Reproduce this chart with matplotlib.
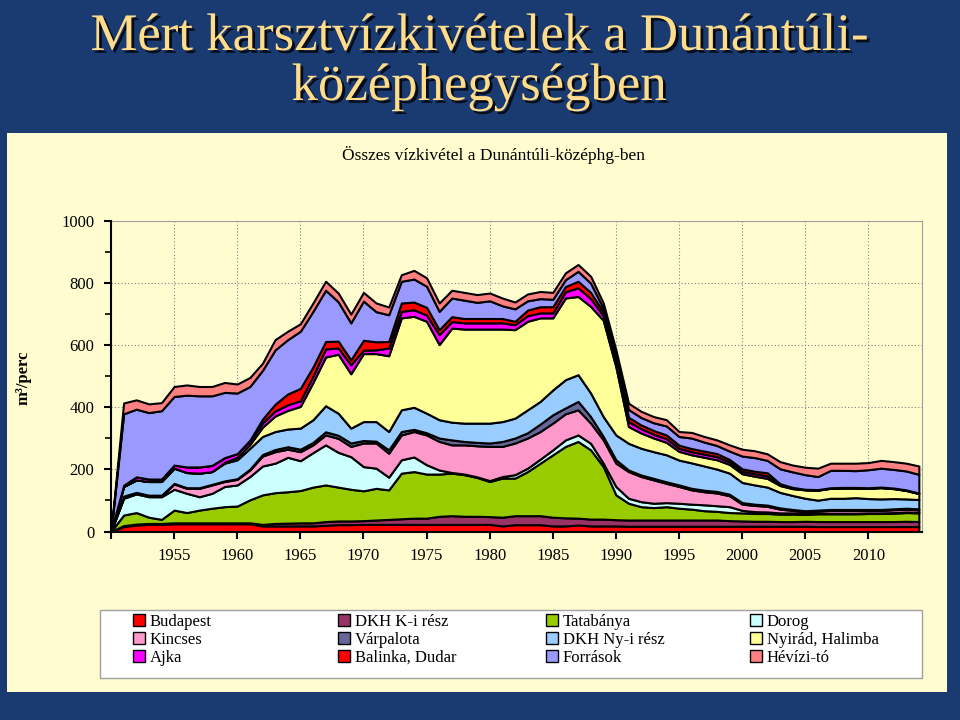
import matplotlib.pyplot as plt
import matplotlib.patheffects as pe
from matplotlib.patches import Rectangle, Patch
from matplotlib.ticker import MultipleLocator

plt.rcParams['font.family'] = ['Liberation Serif', 'DejaVu Serif']

years = list(range(1950, 2015))

budapest = [0, 16, 21, 23, 23, 25, 25, 25, 25, 25, 25, 25, 18, 18, 18, 18, 18, 20, 22, 22,
            23, 23, 23, 23, 23, 23, 23, 23, 23, 23, 23, 18, 22, 22, 22, 18, 18, 21, 18, 18,
            18, 17, 17, 17, 17, 17, 17, 17, 17, 17, 17, 17, 17, 17, 17, 17, 16, 16, 16, 16,
            16, 16, 16, 16, 16]
dkh_k = [0, 3, 3, 3, 3, 3, 3, 3, 3, 3, 3, 3, 5, 8, 9, 10, 10, 12, 12, 12,
         12, 14, 16, 18, 20, 20, 26, 28, 26, 26, 25, 28, 29, 29, 29, 28, 26, 22, 22, 22,
         20, 20, 20, 20, 20, 20, 20, 20, 20, 18, 17, 16, 16, 15, 15, 16, 16, 16, 16, 16,
         16, 16, 16, 17, 16]
tatabanya = [0, 34, 37, 20, 13, 41, 33, 41, 47, 52, 54, 74, 95, 99, 101, 104, 115, 118, 109, 102,
             96, 102, 95, 147, 150, 142, 136, 137, 134, 125, 113, 126, 121, 142, 169, 201, 230, 247, 223, 169,
             80, 54, 43, 40, 43, 38, 35, 30, 28, 26, 26, 25, 25, 24, 24, 22, 25, 25, 25, 25,
             26, 26, 27, 28, 28]
dorog = [0, 54, 60, 66, 73, 67, 62, 43, 48, 65, 68, 75, 93, 95, 111, 96, 111, 129, 112, 105,
         78, 65, 41, 43, 47, 30, 13, 2, 2, 2, 3, 5, 11, 11, 13, 16, 21, 21, 21, 11,
         27, 16, 16, 14, 13, 16, 16, 19, 18, 19, 8, 6, 5, 4, 4, 3, 2, 2, 2, 2,
         2, 2, 2, 2, 2]
kincses = [0, 5, 3, 3, 3, 17, 16, 27, 27, 16, 18, 21, 32, 37, 26, 29, 25, 32, 45, 33,
           76, 81, 77, 80, 82, 96, 92, 89, 94, 100, 110, 97, 102, 97, 89, 86, 84, 81, 65, 75,
           75, 86, 81, 75, 62, 54, 46, 42, 41, 35, 20, 20, 18, 12, 8, 6, 7, 9, 9, 9,
           8, 8, 9, 9, 8]
varpalota = [0, 2, 2, 2, 2, 2, 2, 2, 2, 2, 2, 3, 5, 7, 8, 8, 8, 10, 10, 11,
             8, 6, 11, 11, 7, 7, 11, 16, 11, 11, 11, 16, 16, 17, 24, 27, 19, 27, 21, 11,
             11, 5, 5, 5, 5, 5, 5, 5, 5, 5, 5, 4, 4, 4, 3, 3, 3, 3, 3, 3,
             3, 3, 3, 3, 3]
dkh_ny = [0, 31, 40, 44, 44, 49, 49, 47, 41, 57, 61, 67, 58, 58, 57, 68, 73, 84, 71, 48,
          61, 63, 59, 70, 71, 63, 59, 57, 59, 62, 64, 64, 64, 74, 73, 80, 91, 86, 76, 64,
          80, 86, 86, 86, 87, 80, 82, 78, 72, 68, 65, 62, 58, 50, 45, 40, 32, 36, 36, 38,
          35, 34, 33, 30, 30]
nyirad = [0, 0, 0, 0, 0, 0, 0, 0, 0, 3, 8, 12, 30, 50, 60, 70, 120, 157, 190, 175,
          219, 219, 244, 296, 293, 296, 242, 303, 303, 303, 303, 298, 285, 285, 269, 232, 263, 252, 279, 310,
          219, 54, 49, 44, 40, 28, 26, 28, 30, 28, 28, 28, 28, 22, 22, 27, 32, 32, 33, 31,
          33, 36, 32, 27, 19]
ajka = [0, 4, 10, 8, 8, 10, 18, 20, 20, 15, 12, 12, 14, 16, 18, 18, 20, 26, 20, 29,
        11, 12, 25, 21, 21, 20, 32, 21, 20, 20, 20, 20, 16, 18, 16, 16, 20, 28, 25, 15,
        15, 16, 14, 12, 12, 10, 10, 10, 10, 8, 8, 8, 8, 3, 2, 1, 1, 1, 1, 1,
        1, 1, 1, 1, 1]
balinka = [0, 0, 0, 0, 0, 0, 0, 0, 0, 0, 0, 2, 12, 22, 35, 40, 30, 24, 22, 16,
           32, 26, 21, 27, 25, 25, 16, 16, 14, 14, 14, 14, 11, 18, 20, 20, 17, 21, 20, 12,
           12, 14, 12, 12, 12, 10, 10, 10, 10, 8, 8, 8, 10, 3, 2, 1, 1, 1, 1, 1,
           1, 1, 1, 1, 1]
forrasok = [0, 230, 218, 214, 220, 221, 231, 229, 224, 210, 195, 173, 157, 175, 175, 184, 179, 165, 127, 119,
            126, 97, 86, 70, 74, 68, 59, 60, 59, 52, 57, 41, 40, 30, 26, 24, 22, 32, 30, 12,
            12, 25, 24, 25, 29, 28, 34, 29, 26, 27, 41, 44, 40, 48, 50, 47, 42, 56, 55, 54,
            58, 61, 60, 61, 60]
hevizi = [0, 35, 30, 28, 26, 32, 33, 30, 30, 32, 29, 29, 23, 33, 27, 24, 27, 29, 28, 28,
          28, 28, 25, 21, 28, 27, 27, 25, 25, 25, 25, 25, 22, 22, 23, 22, 22, 22, 22, 17,
          16, 20, 20, 20, 20, 16, 18, 18, 18, 20, 22, 22, 21, 23, 22, 24, 27, 23, 23, 24,
          23, 25, 25, 25, 27]

names = ['Budapest', 'DKH K-i rész', 'Tatabánya', 'Dorog',
         'Kincses', 'Várpalota', 'DKH Ny-i rész', 'Nyirád, Halimba',
         'Ajka', 'Balinka, Dudar', 'Források', 'Hévízi-tó']
series = [budapest, dkh_k, tatabanya, dorog, kincses, varpalota,
          dkh_ny, nyirad, ajka, balinka, forrasok, hevizi]
colors = ['#ff0000', '#993366', '#99cc00', '#ccffff', '#ff99cc', '#666699',
          '#99ccff', '#ffff99', '#ff00ff', '#ff0000', '#9999ff', '#ff8080']

W, H = 960, 720
fig = plt.figure(figsize=(9.6, 7.2), dpi=100)
fig.patch.set_facecolor('#193b72')

# pale panel behind the chart
fig.patches.append(Rectangle((7 / W, 1 - 692 / H), 940 / W, 559 / H,
                             transform=fig.transFigure, facecolor='#fffdd0',
                             edgecolor='none', zorder=-10))
# legend box
fig.patches.append(Rectangle((100 / W, 1 - 678 / H), 822 / W, 68 / H,
                             transform=fig.transFigure, facecolor='white',
                             edgecolor='#a0a0a0', linewidth=1, zorder=-5))

title_fx = [pe.withSimplePatchShadow(offset=(2, -2), shadow_rgbFace='black', alpha=0.8)]
fig.text(479 / W, 1 - 50 / H, 'Mért karsztvízkivételek a Dunántúli-', ha='center',
         va='baseline', fontsize=38, color='#ffdc8a', path_effects=title_fx)
fig.text(479 / W, 1 - 100 / H, 'középhegységben', ha='center', va='baseline',
         fontsize=38, color='#ffdc8a', path_effects=title_fx)

fig.text(494 / W, 1 - 155 / H, 'Összes vízkivétel a Dunántúli-középhg-ben',
         ha='center', va='center', fontsize=12.5)
fig.text(24 / W, 1 - 378 / H, 'm³/perc', rotation=90, ha='center', va='center',
         fontsize=12, fontweight='bold')

ax = fig.add_axes([111 / W, 1 - 531.5 / H, 811 / W, 310.5 / H])
ax.set_facecolor('none')
ax.stackplot(years, *series, colors=colors, edgecolor='black', linewidth=1.5, zorder=3)

ax.set_xlim(1950, 2014.25)
ax.set_ylim(0, 1000)
ax.set_xticks(range(1950, 2011, 5))
ax.set_xticklabels([''] + [str(y) for y in range(1955, 2011, 5)])
ax.yaxis.set_major_locator(MultipleLocator(200))
ax.yaxis.set_minor_locator(MultipleLocator(100))
ax.tick_params(axis='both', direction='out', length=5, width=1.5, labelsize=12, pad=7)
ax.tick_params(axis='y', which='minor', direction='out', length=4, width=1.2)
ax.grid(True, which='major', linestyle=(0, (1, 2)), color='#7f7f7f', linewidth=0.8, zorder=1)
ax.set_axisbelow(True)
for side in ('left', 'bottom'):
    ax.spines[side].set_linewidth(1.5)
    ax.spines[side].set_zorder(5)
for side in ('top', 'right'):
    ax.spines[side].set_color('#a0a0a0')
    ax.spines[side].set_linewidth(0.8)

handles = [Patch(facecolor=c, edgecolor='black', linewidth=1) for c in colors]
col_x = [133, 338, 546, 750]
for c in range(4):
    fig.legend(handles[c::4], names[c::4], loc='upper left',
               bbox_to_anchor=(col_x[c] / W, 1 - 614 / H), frameon=False,
               fontsize=12, handlelength=0.7, handleheight=0.7, handletextpad=0.3,
               labelspacing=0.12, borderpad=0, borderaxespad=0)

fig.savefig('out.png', dpi=100, facecolor=fig.get_facecolor())
